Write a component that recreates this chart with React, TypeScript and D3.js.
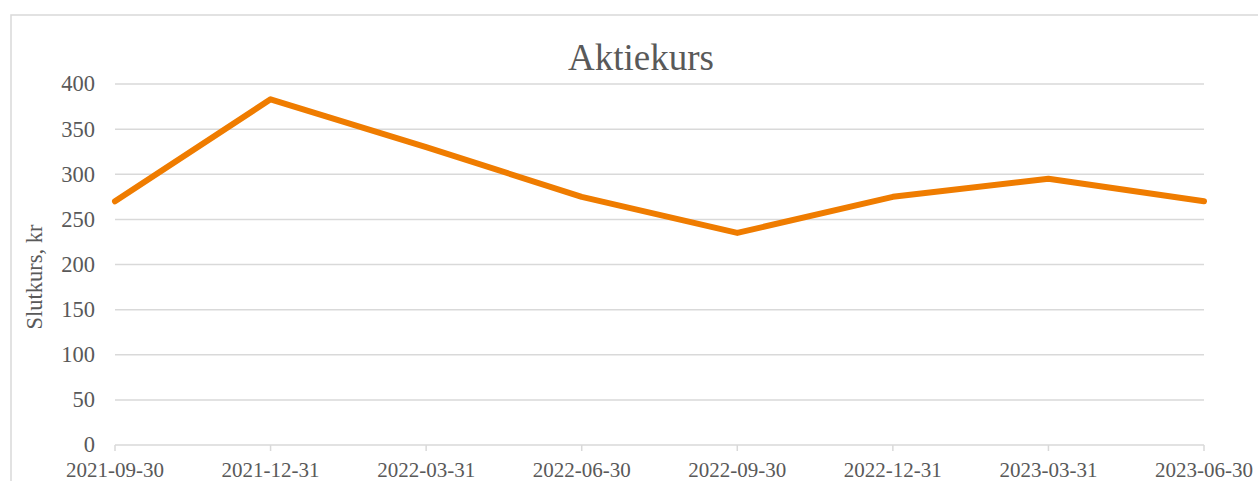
import * as d3 from 'd3';
import * as React from 'react';

const dates = ['2021-09-30', '2021-12-31', '2022-03-31', '2022-06-30', '2022-09-30', '2022-12-31', '2023-03-31', '2023-06-30'];
const prices = [270, 383, 330, 275, 235, 275, 295, 270];
const yTicks = [0, 50, 100, 150, 200, 250, 300, 350, 400];

const W = 1258;
const H = 481;
const margin = { left: 115, right: 54, top: 84, bottom: 36 };
const font = '"Liberation Serif", "Times New Roman", serif';

export default function App() {
  const x = d3.scalePoint<string>().domain(dates).range([margin.left, W - margin.right]);
  const y = d3.scaleLinear().domain([0, 400]).range([H - margin.bottom, margin.top]);
  const line = d3.line<number>()
    .x((_, i) => x(dates[i]) as number)
    .y(d => y(d));

  return (
    <svg width={W} height={H} style={{ position: 'absolute', left: 0, top: 0 }}>
      <rect x={0} y={0} width={W} height={H} fill="#fff" />
      <rect x={11} y={15} width={W + 20} height={H + 20} fill="none" stroke="#d9d9d9" strokeWidth={1.5} />
      <text x={641} y={70} textAnchor="middle" fontFamily={font} fontSize={37} fill="#595959">Aktiekurs</text>

      {yTicks.map(t => (
        <g key={t}>
          <line x1={margin.left} x2={W - margin.right} y1={y(t)} y2={y(t)} stroke="#d9d9d9" strokeWidth={1.5} />
          <text x={95} y={y(t)} dy="0.33em" textAnchor="end" fontFamily={font} fontSize={22.5} fill="#595959">{t}</text>
        </g>
      ))}

      {dates.map(d => (
        <g key={d}>
          <line x1={x(d)} x2={x(d)} y1={y(0)} y2={y(0) + 6} stroke="#d9d9d9" strokeWidth={1.5} />
          <text x={x(d)} y={477} textAnchor="middle" fontFamily={font} fontSize={21} fill="#595959">{d}</text>
        </g>
      ))}

      <text transform={`translate(42,277) rotate(-90)`} textAnchor="middle" fontFamily={font} fontSize={22.5} fill="#595959">Slutkurs, kr</text>

      <path d={line(prices) || ''} fill="none" stroke="#ef7c00" strokeWidth={6} strokeLinejoin="round" strokeLinecap="round" />
    </svg>
  );
}
